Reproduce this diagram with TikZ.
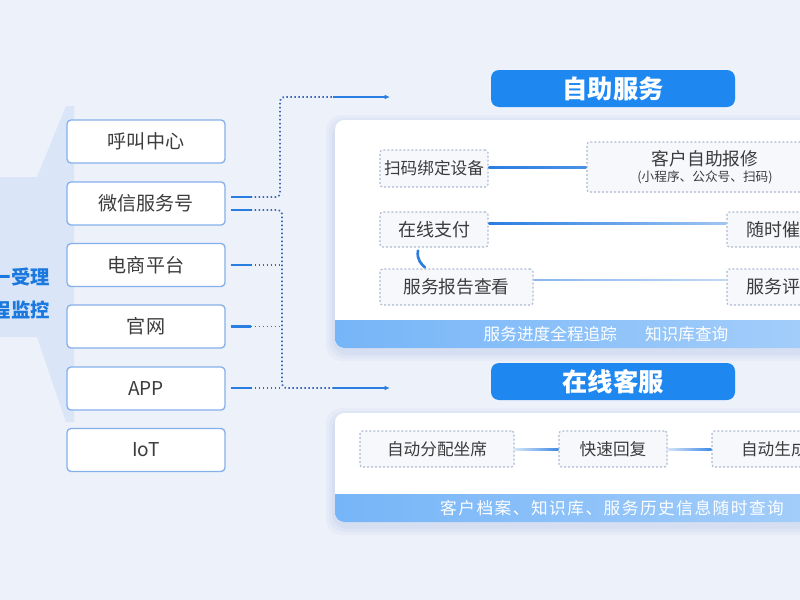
\documentclass[tikz,border=0pt]{standalone}
\usepackage{fontspec}
\setmainfont{Noto Sans CJK SC}
\usetikzlibrary{calc,arrows.meta,shapes.misc}
\definecolor{bg}{HTML}{EDF1F9}
\definecolor{trap}{HTML}{DAE6F7}
\definecolor{blueT}{HTML}{1A78DE}
\definecolor{head}{HTML}{1E88F0}
\definecolor{boxb}{HTML}{85B0EC}
\definecolor{txt}{HTML}{3C3C3C}
\definecolor{dotl}{HTML}{3A68B8}
\definecolor{arrb}{HTML}{2A7DE1}
\definecolor{itemf}{HTML}{F6F8FC}
\definecolor{itemb}{HTML}{AEBAD0}
\definecolor{bandl}{HTML}{76B5F8}
\definecolor{bandr}{HTML}{A6CFFA}
\definecolor{shad}{HTML}{C9D5EE}
\tikzset{
  chan/.style={draw=boxb, line width=1pt, fill=white, rounded corners=3pt,
    minimum width=118.5pt, minimum height=32.25pt, font=\fontsize{14.3pt}{16pt}\selectfont, text=txt},
  headbox/.style={fill=head, rounded corners=6pt, minimum width=183pt, minimum height=27.75pt,
    font=\fontsize{19pt}{21pt}\selectfont\bfseries, text=white},
  item/.style={draw=itemb, dash pattern=on 1.4pt off 1.6pt, line width=0.9pt, fill=itemf,
    rounded corners=2pt, inner sep=0pt, font=\fontsize{12.5pt}{15pt}\selectfont, text=txt},
  solidc/.style={draw=arrb, line width=1.6pt},
  dotc/.style={draw=dotl, line width=1.3pt, dash pattern=on 1.1pt off 1.9pt},
  arrowc/.style={draw=arrb, line width=1pt, -{Latex[length=4pt,width=3.5pt]}},
  bandtxt/.style={text=white, font=\fontsize{12.5pt}{15pt}\selectfont},
  sidetxt/.style={anchor=east, inner sep=0pt, text=blueT, font=\fontsize{14.5pt}{16pt}\selectfont\bfseries}
}
\begin{document}
\begin{tikzpicture}[x=0.75pt,y=-0.75pt]
\useasboundingbox (0,0) rectangle (800,600);
\clip (0,0) rectangle (800,600);
\fill[bg] (0,0) rectangle (800,600);

% left trapezoid
\fill[trap] (0,177) -- (37,177) -- (66,106) -- (74,106) -- (74,422) -- (66,422) -- (37,337) -- (0,337) -- cycle;
\node[sidetxt] (t1) at (50,277) {统一受理};
\node[sidetxt] (t2) at (50,310) {全程监控};

% channel boxes
\node[chan] (hj) at (146,141.5) {呼叫中心};
\node[chan] (wx) at (146,203.5) {微信服务号};
\node[chan] (ds) at (146,265) {电商平台};
\node[chan] (gw) at (146,326.5) {官网};
\node[chan] (app) at (146,388.5) {APP};
\node[chan] (iot) at (146,450) {IoT};

% panel shadows
\foreach \d/\o in {9/0.18,6/0.25,3/0.35}{
  \fill[shad, opacity=\o, rounded corners=12pt] (335-\d,120-\d+4) rectangle (840,348+\d+4);
  \fill[shad, opacity=\o, rounded corners=12pt] (335-\d,413-\d+4) rectangle (840,522+\d+4);
}
% panel 1
\begin{scope}
\clip[rounded corners=7pt] (335,120) rectangle (840,348);
\fill[white] (335,120) rectangle (840,348);
\shade[left color=bandl, right color=bandr] (335,320) rectangle (840,348);
\end{scope}
% panel 2
\begin{scope}
\clip[rounded corners=7pt] (335,413) rectangle (840,522);
\fill[white] (335,413) rectangle (840,522);
\shade[left color=bandl, right color=bandr] (335,494) rectangle (840,522);
\end{scope}

\node[bandtxt] (b1) at (606,334.5) {服务进度全程追踪\hspace{21pt}知识库查询};
\node[bandtxt] (b2) at (612,508.5) {\addfontfeature{LetterSpace=9}客户档案、知识库、服务历史信息随时查询};

% headers
\node[headbox] (h1) at (613,88.5) {自助服务};
\node[headbox] (h2) at (613,381.5) {在线客服};

% items panel 1
\node[item, minimum width=81pt, minimum height=27.75pt] (scan) at (434,168.5) {扫码绑定设备};
\node[item, minimum width=177pt, minimum height=37.5pt, align=center] (rep) at (705,167)
  {{\fontsize{13.3pt}{15pt}\selectfont 客户自助报修}\\[-3pt]{\fontsize{9.5pt}{11pt}\selectfont (小程序、公众号、扫码)}};
\node[item, minimum width=81pt, minimum height=26.25pt, font=\fontsize{13.5pt}{15pt}\selectfont] (pay) at (434,229.5) {在线支付};
\node[item, minimum width=82.5pt, minimum height=26.25pt, font=\fontsize{13.5pt}{15pt}\selectfont] (urge) at (782,229.5) {随时催单};
\node[item, minimum width=114.75pt, minimum height=27pt, font=\fontsize{13.3pt}{15pt}\selectfont] (rpt) at (456.5,287) {服务报告查看};
\node[item, minimum width=82.5pt, minimum height=27pt, font=\fontsize{13.5pt}{15pt}\selectfont] (rate) at (782,287) {服务评价};

% items panel 2
\node[item, minimum width=115.5pt, minimum height=27pt] (asg) at (437,449) {自动分配坐席};
\node[item, minimum width=81pt, minimum height=27pt] (rpl) at (613,449) {快速回复};
\node[item, minimum width=118.5pt, minimum height=27pt] (gen) at (791,449) {自动生成工单};

% connectors inside panels
\shade[left color=arrb, right color=arrb!85] ($(scan.east)+(0,-2)$) rectangle ($(rep.west |- scan.east)+(0,0)$);
\shade[left color=arrb, right color=arrb!45] ($(pay.east)+(0,-7.5)$) rectangle ($(urge.west |- pay.east)+(0,-5.5)$);
\shade[left color=arrb!55, right color=arrb!30] ($(rpt.east)+(0,-8)$) rectangle ($(rate.west |- rpt.east)+(0,-6.5)$);
\shade[left color=arrb!20, right color=arrb!90] ($(asg.east)+(0,-1)$) rectangle ($(rpl.west |- asg.east)+(0,1)$);
\shade[left color=arrb!20, right color=arrb!90] ($(rpl.east)+(0,-1)$) rectangle ($(gen.west |- rpl.east)+(0,1)$);
\draw[draw=arrb, line width=2pt, line cap=round]
  ($(pay.south)+(-16,3)$) .. controls ($(pay.south)+(-17.5,12)$) and ($(rpt.north)+(-35,-4)$) .. ($(rpt.north)+(-31.5,-1)$);

% channel connectors
\coordinate (c1) at (280,97);
\coordinate (c2) at (282,388);
\coordinate (e1) at (390,97);
\coordinate (e2) at (390,388);
\coordinate (m1) at (333,97);
\coordinate (m2) at (333,388);

\draw[solidc] ($(wx.east)+(5,-6.5)$) -- ++(20,0) coordinate (a2);
\draw[dotc, rounded corners=3pt] (a2) -- (a2 -| c1) -- (c1) -- (m1);
\draw[arrowc] (m1) -- (e1);

\draw[solidc] ($(wx.east)+(5,6.5)$) -- ++(20,0) coordinate (b2);
\draw[dotc, rounded corners=3pt] (b2) -- (b2 -| c2) -- (c2) -- (m2);
\draw[arrowc] (m2) -- (e2);

\draw[solidc] ($(ds.east)+(5,0)$) -- ++(20,0) coordinate (d2);
\draw[dotc] (d2) -- (d2 -| c2);
\draw[solidc] ($(gw.east)+(5,0)$) -- ++(20,0) coordinate (g2);
\draw[dotc] (g2) -- (g2 -| c2);
\draw[solidc] ($(app.east)+(5,-0.5)$) -- ++(20,0) coordinate (p2);
\draw[dotc] (p2) -- (c2);
\end{tikzpicture}
\end{document}
